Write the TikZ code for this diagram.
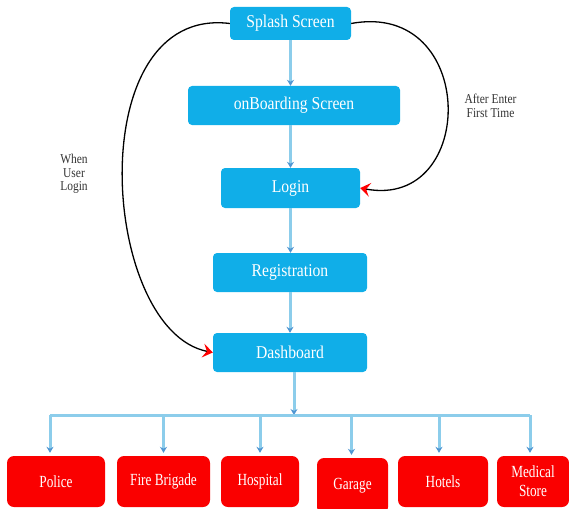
\documentclass[tikz,border=0pt]{standalone}
\usepackage{fontspec}
\setmainfont{Liberation Serif}
\newfontfamily\boxfont[FakeStretch=0.87]{Liberation Serif}
\newfontfamily\svcfont[FakeStretch=0.78]{Liberation Serif}
\newfontfamily\notefont[FakeStretch=0.85]{Liberation Serif}
\usetikzlibrary{arrows.meta}
\definecolor{boxblue}{RGB}{16,174,232}
\definecolor{linkblue}{RGB}{140,205,235}
\definecolor{tipblue}{RGB}{80,150,210}
\definecolor{boxred}{RGB}{250,0,0}
\begin{document}
\begin{tikzpicture}[x=1pt,y=-1pt,
 bluebox/.style={draw=none, fill=boxblue, rounded corners=4pt, text=white, font={\boxfont\fontsize{18}{20}\selectfont}, inner sep=0pt, minimum height=39pt},
 redbox/.style={fill=boxred, rounded corners=7pt, text=white, font={\svcfont\fontsize{17}{19}\selectfont}, align=center, inner sep=0pt, minimum height=51pt},
 flow/.style={draw=linkblue, line width=3pt, -{Stealth[length=6pt,width=7pt,color=tipblue]}},
 busline/.style={draw=linkblue, line width=3pt},
 jump/.style={draw=black, line width=1.3pt, -{Stealth[length=10pt,width=14pt,inset=4pt,color=red]}},
 note/.style={font={\notefont\fontsize{13.5}{13.5}\selectfont}, text=black!80, align=center}]
\useasboundingbox (0,0) rectangle (569,508);
% main flow
\node[bluebox, minimum width=121pt, minimum height=33pt] (splash) at (290.5,23.5) {Splash Screen};
\node[bluebox, minimum width=212pt] (onb) at (294,105.5) {onBoarding Screen};
\node[bluebox, minimum width=139pt, minimum height=40pt] (login) at (290.5,188) {Login};
\node[bluebox, minimum width=154pt] (reg) at (290,272.5) {Registration};
\node[bluebox, minimum width=154pt] (dash) at (290,352.5) {Dashboard};
% services
\node[redbox, minimum width=98pt] (police) at (56,481.5) {Police};
\node[redbox, minimum width=93pt] (fire) at (163.5,481.5) {Fire Brigade};
\node[redbox, minimum width=78pt] (hosp) at (260,481.5) {Hospital};
\node[redbox, minimum width=71pt, minimum height=56pt] (garage) at (352.5,486) {Garage};
\node[redbox, minimum width=90pt] (hotels) at (443,481.5) {Hotels};
\node[redbox, minimum width=72pt] (medical) at (533,481.5) {Medical\\Store};
% notes
\node[note] (whenlabel) at (74,174) {When\\User\\Login};
\node[note] (afterlabel) at (490.5,106) {After Enter\\First Time};
% flow connectors
\draw[flow] (splash.south) -- (splash.south |- onb.north);
\draw[flow] (login.north |- onb.south) -- (login.north);
\draw[flow] (login.south) -- (login.south |- reg.north);
\draw[flow] (reg.south) -- (reg.south |- dash.north);
\coordinate (bus) at (0,415);
\draw[flow] ([xshift=4pt]dash.south) -- ([xshift=4pt]dash.south |- bus);
\draw[busline] ([xshift=-6pt]police.north |- bus) -- ([xshift=-3pt]medical.north |- bus);
\draw[flow, shorten >=3pt] ([xshift=-6pt]police.north |- bus) -- ([xshift=-6pt]police.north);
\draw[flow, shorten >=3pt] (fire.north |- bus) -- (fire.north);
\draw[flow, shorten >=3pt] (hosp.north |- bus) -- (hosp.north);
\draw[flow, shorten >=3pt] ([xshift=-1pt]garage.north |- bus) -- ([xshift=-1pt]garage.north);
\draw[flow, shorten >=3pt] ([xshift=-4pt]hotels.north |- bus) -- ([xshift=-4pt]hotels.north);
\draw[flow, shorten >=3pt] ([xshift=-3pt]medical.north |- bus) -- ([xshift=-3pt]medical.north);
% jumps
\draw[jump] (splash.west) .. controls (80,5) and (100,330) .. (dash.west);
\draw[jump] (splash.east) .. controls (478,0) and (478,210) .. (login.east);
\end{tikzpicture}
\end{document}
